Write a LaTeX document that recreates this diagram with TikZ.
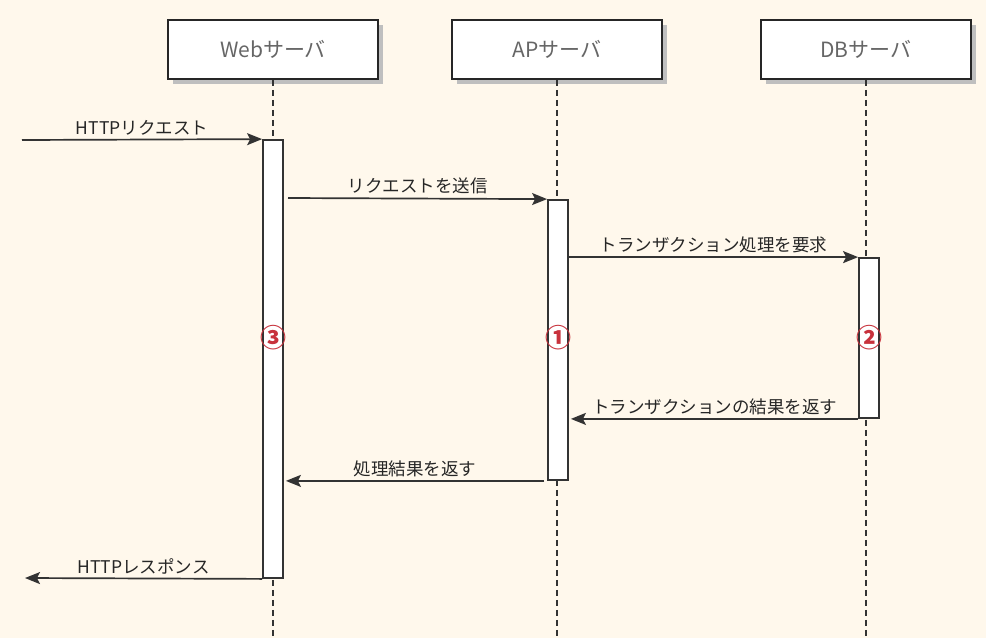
\documentclass[tikz,border=0pt]{standalone}
\usepackage{fontspec}
\setmainfont{Noto Sans CJK JP}
\usetikzlibrary{shadows,arrows.meta}
\definecolor{paper}{HTML}{FFF8EC}
\definecolor{numred}{HTML}{C8323C}

\tikzset{
  objbox/.style={draw=black!85, line width=1.8pt, fill=white, minimum width=210pt, minimum height=59pt,
    font=\fontsize{21}{24}\selectfont, text=black!60,
    drop shadow={shadow xshift=5pt, shadow yshift=-5pt, fill=black!25, opacity=1}},
  actbar/.style={draw=black!80, line width=1.8pt, fill=white, minimum width=20pt, inner sep=0pt},
  lifeline/.style={dashed, dash pattern=on 6pt off 4pt, line width=1.6pt, black!80},
  msg/.style={-{Stealth[length=15pt,width=12pt,inset=3pt]}, line width=1.7pt, black!80},
  msglabel/.style={font=\fontsize{17.5}{20}\selectfont, text=black!85, above=0pt, midway},
  numlabel/.style={font=\bfseries\fontsize{26}{28}\selectfont, text=numred}
}

\begin{document}
\begin{tikzpicture}[x=1pt, y=-1pt]
  \fill[paper] (0,0) rectangle (986,638);
  \useasboundingbox (0,0) rectangle (986,638);

  % objects
  \node[objbox] (web) at (273,49.5) {Webサーバ};
  \node[objbox] (ap) at (557,49.5) {APサーバ};
  \node[objbox] (db) at (866,49.5) {DBサーバ};

  % lifelines
  \coordinate (bottom) at (0,640);
  \draw[lifeline] (web.south) -- (web.south |- bottom);
  \draw[lifeline] (ap.south) -- (ap.south |- bottom);
  \draw[lifeline] (db.south) -- (db.south |- bottom);

  % activations
  \node[actbar, minimum height=438pt] (webact) at (273,359) {};
  \node[actbar, minimum height=280pt] (apact) at (558,340) {};
  \node[actbar, minimum height=160pt] (dbact) at (869,338) {};
  \node[numlabel] (webnum) at (273,338) {③};
  \node[numlabel] (apnum) at (558,338) {①};
  \node[numlabel] (dbnum) at (869,338) {②};

  % messages
  \coordinate (reqin) at (22,140);
  \coordinate (resout) at (25,578);
  \coordinate (sendstart) at (288,198);
  \draw[msg] (reqin) -- (webact.north west) node[msglabel]{HTTPリクエスト};
  \draw[msg] (sendstart) -- (apact.north west) node[msglabel]{リクエストを送信};
  \draw[msg] (apact.east |- dbact.north) -- (dbact.north west) node[msglabel]{トランザクション処理を要求};
  \draw[msg] (dbact.south west) -- ([xshift=2pt]apact.east |- dbact.south) node[msglabel]{トランザクションの結果を返す};
  \draw[msg] ([xshift=-3pt]apact.south west) -- ([xshift=2pt]webact.east |- apact.south) node[msglabel]{処理結果を返す};
  \draw[msg] (webact.south west) -- (resout) node[msglabel]{HTTPレスポンス};
\end{tikzpicture}
\end{document}
